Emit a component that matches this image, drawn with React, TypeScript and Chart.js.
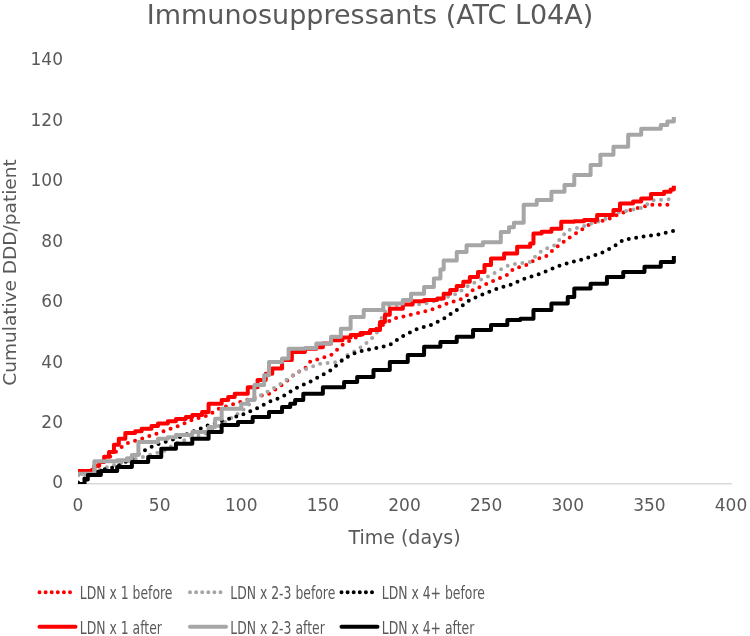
import React, { useEffect, useRef } from "react";
import { Chart, registerables } from "chart.js";

Chart.register(...registerables);

const chartTitle = "Immunosuppressants (ATC L04A)";
const xAxisTitle = "Time (days)";
const yAxisTitle = "Cumulative DDD/patient";
const xTickStep = 50;
const yTickStep = 20;

const seriesLabels = [
  "LDN x 1 before",
  "LDN x 2-3 before",
  "LDN x 4+ before",
  "LDN x 1 after",
  "LDN x 2-3 after",
  "LDN x 4+ after",
];

const x1BeforeDays = [0,10,16,21,25,29,39,51,60,70,80,86,96,109,117,125,133,139,142,155,163,171,183,193,204,216,226,236,242,253,263,267,275,281,286,292,300,308,315,324,332,340,351,365];
const x1BeforeVals = [3,5,7.5,9.6,11.5,13.3,15,17.2,18.9,21.2,22.8,24.9,26.6,28.8,29.9,32.8,36.5,38.2,40.4,42.7,46.5,48.7,51.4,54.7,56,57.6,59.7,61.4,64.2,66.9,69.2,71.3,72.5,74.6,75,77.9,81.2,84,86.5,87.4,89.5,91,92.4,92.4];

const x23BeforeDays = [0,10,20,30,40,53,60,70,80,90,100,110,116,121,126,130,135,140,148,160,165,171,179,183,186,190,212,224,232,240,253,264,277,281,285,292,300,308,314,322,328,339,345,353,365];
const x23BeforeVals = [3,4,6,7.5,9,11,13.5,15.5,17,20.5,24,28.8,30.5,32,33.8,35.4,37.1,38.1,39.8,40.4,42.7,44.4,47.6,50,55,59,59.6,61.4,63,65.9,69.2,72.5,73.5,75.8,77.5,79,84,85,86.2,87.4,89.5,90.7,91.4,94,94.3];

const x4BeforeDays = [0,4,14,23,33,39,47,60,70,80,90,100,109,117,125,133,142,155,163,171,181,191,198,208,216,224,232,240,249,257,267,271,283,296,308,320,328,334,345,355,365];
const x4BeforeVals = [0.5,1.8,4.6,5.6,8.4,10.6,12.9,15,17.2,19.5,21.2,22.8,24.9,27.2,28.8,31.6,33.8,37.7,41.5,43.7,44.8,46,48.7,51.4,52.6,54.7,57.6,60.9,63,64.7,66.3,67.5,69.6,72.5,74.2,76.3,78.5,80.8,81.8,82.5,83.8];

const x1AfterDays = [0,7,10,13,16,19,22,25,29,35,39,45,49,55,60,66,70,76,80,88,92,96,104,110,115,119,125,131,139,146,150,155,162,167,173,179,185,188,191,199,205,212,220,224,228,232,236,240,245,249,253,261,269,277,279,284,290,296,304,310,318,328,332,340,345,351,359,363,365];
const x1AfterVals = [4.3,4.3,6,7.3,9,10.6,13,15,16.9,17.5,18.3,19.2,20,20.8,21.5,22.2,22.8,23.8,26.6,27.8,28.8,29.9,32,34.4,36.5,38.2,41,43.7,44.8,45.3,46.5,47.6,48.5,49.3,50,51,53.6,56,58,59.4,60.5,60.9,61.4,63,64.2,65.5,66.9,68.5,70.2,72.5,74.6,76.3,78.5,79.6,82.9,83.5,84.5,86.8,87,87.4,89,90.7,92.8,93.5,94.5,96,96.7,97.5,98.7];

const x23AfterDays = [0,8,10,24,30,33,37,49,55,60,70,80,84,88,100,104,108,114,117,125,129,139,146,155,161,167,175,187,199,204,212,218,222,224,232,238,248,259,264,267,273,281,290,298,304,314,320,328,337,345,357,361,365];
const x23AfterVals = [3.4,3.4,7.5,7.9,8.5,9.6,13.9,15,15.5,16.2,17.2,18.9,21.6,24.9,26.6,27.8,32.8,36,40.4,41.5,44.8,45,46.5,48.7,51.4,55.3,57.6,59.7,60.9,63,65.2,68,71,74,76.8,79,80,83.4,85,86.5,92.4,94,96.7,99,102.3,105.6,109,111.6,115.6,117.6,118.8,120,121.5];

const x4AfterDays = [0,4,6,14,24,33,43,51,60,70,80,88,98,107,117,125,130,133,138,150,163,171,181,191,202,212,222,232,242,253,263,271,279,290,300,304,314,324,334,347,357,365];
const x4AfterVals = [0,1.5,3,4.3,5.6,7.3,8.9,11.7,13.3,15,17.2,19.5,20.5,22.2,23.8,25.5,26.6,27.8,29.9,32,33.8,35.4,37.7,40.4,42.7,45.4,47,48.7,51,52.6,54.3,54.7,57.6,59.7,61.9,64.7,66.3,68.5,70.2,71.9,73.5,75.5];

const RED = "#ff0000";
const GREY = "#a6a6a6";
const BLACK = "#000000";
const TEXT = "#595959";
const FONT = "'DejaVu Sans', Verdana, sans-serif";
const DOT_DASH = [0, 7.5];

const pts = (days: number[], vals: number[]) => days.map((d, i) => ({ x: d, y: vals[i] }));

const seriesDefs = [
  { label: seriesLabels[0], days: x1BeforeDays, vals: x1BeforeVals, color: RED, dotted: true },
  { label: seriesLabels[1], days: x23BeforeDays, vals: x23BeforeVals, color: GREY, dotted: true },
  { label: seriesLabels[2], days: x4BeforeDays, vals: x4BeforeVals, color: BLACK, dotted: true },
  { label: seriesLabels[3], days: x1AfterDays, vals: x1AfterVals, color: RED, dotted: false },
  { label: seriesLabels[4], days: x23AfterDays, vals: x23AfterVals, color: GREY, dotted: false },
  { label: seriesLabels[5], days: x4AfterDays, vals: x4AfterVals, color: BLACK, dotted: false },
];

const legendPlugin = {
  id: "gridLegend",
  afterDraw(chart: any) {
    const ctx = chart.ctx as CanvasRenderingContext2D;
    const cols = [38, 188.5, 340];
    const lineY = [592.3, 626.8];
    const textY = [598.5, 633.5];
    ctx.save();
    seriesDefs.forEach((s, i) => {
      const c = i % 3;
      const r = Math.floor(i / 3);
      const x0 = cols[c];
      ctx.beginPath();
      ctx.strokeStyle = s.color;
      ctx.lineWidth = 4;
      ctx.lineCap = "round";
      ctx.setLineDash(s.dotted ? [0, 6.1] : []);
      ctx.moveTo(x0 + 1.5, lineY[r]);
      ctx.lineTo(x0 + 37.5, lineY[r]);
      ctx.stroke();
      ctx.setLineDash([]);
      ctx.save();
      ctx.translate(x0 + 41.8, textY[r]);
      ctx.scale(0.67, 1);
      ctx.fillStyle = TEXT;
      ctx.font = `18.5px ${FONT}`;
      ctx.textBaseline = "alphabetic";
      ctx.textAlign = "left";
      ctx.fillText(s.label, 0, 0);
      ctx.restore();
    });
    ctx.restore();
  },
};

export default function App() {
  const canvasRef = useRef<HTMLCanvasElement | null>(null);

  useEffect(() => {
    document.body.style.margin = "0";
    const canvas = canvasRef.current;
    if (!canvas) return;
    const datasets = seriesDefs
      .map((s) => ({
        label: s.label,
        data: pts(s.days, s.vals),
        borderColor: s.color,
        backgroundColor: s.color,
        borderWidth: 4,
        borderDash: s.dotted ? DOT_DASH : [],
        borderCapStyle: s.dotted ? ("round" as const) : ("butt" as const),
        borderJoinStyle: "round" as const,
        pointRadius: 0,
        pointHoverRadius: 0,
        fill: false,
        tension: 0,
        stepped: s.dotted ? false : true,
      }))
      .reverse();

    const chart = new Chart(canvas, {
      type: "line",
      data: { datasets },
      plugins: [legendPlugin],
      options: {
        animation: false,
        responsive: false,
        devicePixelRatio: 1,
        layout: { padding: { left: 9, right: 19, top: 0, bottom: 86 } },
        plugins: {
          legend: { display: false },
          tooltip: { enabled: false },
          title: {
            display: true,
            text: chartTitle,
            color: TEXT,
            font: { family: FONT, size: 27, weight: "normal", lineHeight: 1.1 },
            padding: { top: 2, bottom: 29.3 },
          },
        },
        scales: {
          x: {
            type: "linear",
            min: 0,
            max: 400,
            ticks: {
              stepSize: xTickStep,
              color: TEXT,
              font: { family: FONT, size: 17, lineHeight: 2.7 },
              padding: 0,
              maxRotation: 0,
            },
            grid: { display: false, drawTicks: false },
            border: { display: true, color: "#d9d9d9", width: 1.5 },
            title: {
              display: true,
              text: xAxisTitle,
              color: TEXT,
              font: { family: FONT, size: 19, lineHeight: 1.2 },
              padding: { top: 10, bottom: 0 },
            },
            afterFit: (scale: any) => {
              scale.height = 66;
            },
          },
          y: {
            type: "linear",
            min: 0,
            max: 140,
            ticks: {
              stepSize: yTickStep,
              color: TEXT,
              font: { family: FONT, size: 17 },
              padding: 15,
            },
            grid: { display: false, drawTicks: false },
            border: { display: false },
            title: {
              display: true,
              text: yAxisTitle,
              color: TEXT,
              font: { family: FONT, size: 18.5, lineHeight: 0.2 },
              padding: 0,
            },
            afterFit: (scale: any) => {
              scale.width = 69;
            },
          },
        },
      },
    });
    return () => chart.destroy();
  }, []);

  return (
    <div style={{ width: 750, height: 636 }}>
      <canvas ref={canvasRef} width={750} height={636} style={{ width: 750, height: 636, display: "block" }} />
    </div>
  );
}
